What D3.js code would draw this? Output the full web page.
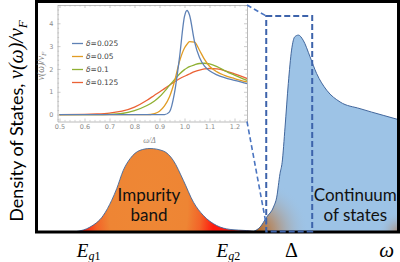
<!DOCTYPE html>
<html><head><meta charset="utf-8">
<script src="https://cdn.jsdelivr.net/npm/d3@7"></script>
<style>html,body{margin:0;padding:0;background:#fff;}svg{display:block;}</style>
</head><body>
<svg id="chart" width="400" height="262"></svg>
<script>
// ---------- DATA ----------
// Main schematic (arbitrary units 0..100)
const bandX = [11.2, 14.9, 18.6, 20.9, 22.3, 24.1, 26.0, 28.7, 31.5, 35.2, 37.9, 40.7, 43.5, 46.2, 49.9, 53.6, 58.2, 60.0];
const bandY = [0, 1.9, 7.0, 13.5, 18.6, 26.5, 31.6, 35.2, 36.0, 34.9, 30.9, 22.2, 12.7, 7.0, 2.6, 0.9, 0.4, 0.1];
const contX = [60.0, 61.9, 63.7, 65.6, 66.5, 67.4, 68.0, 68.8, 69.7, 70.6, 71.5, 72.5, 73.8, 75.7, 77.5, 80.3, 84.0, 89.5, 95.9, 100];
const contY = [0, 1.9, 6.2, 10.6, 14.9, 25.1, 30.0, 45.3, 64.2, 78.7, 84.5, 85.2, 83.0, 75.8, 68.6, 61.3, 56.2, 53.3, 50.4, 48.6];
const mainTickPos = [14.4, 53.0, 70.4, 96.7];
const mainTickNames = ["Eg1", "Eg2", "Δ", "ω"];

// Inset: DOS vs ω/Δ for several δ
const insetOmega = [0.5, 0.6, 0.65, 0.7, 0.75, 0.8, 0.85, 0.88, 0.9, 0.92, 0.94, 0.96, 0.98, 1.0, 1.01, 1.02, 1.04, 1.06, 1.08, 1.1, 1.13, 1.16, 1.2, 1.25];
const dos_d0025 = [0, 0, 0, 0, 0, 0, 0, 0, 0, 0.0, 0.12, 0.95, 2.5, 4.3, 4.56, 4.36, 3.2, 2.5, 2.12, 1.92, 1.74, 1.62, 1.5, 1.36];
const dos_d005  = [0, 0, 0, 0, 0, 0, 0, 0.05, 0.15, 0.38, 0.78, 1.45, 2.33, 2.92, 3.08, 3.2, 3.17, 2.82, 2.42, 2.12, 1.87, 1.72, 1.58, 1.43];
const dos_d01   = [0, 0, 0, 0.01, 0.05, 0.18, 0.4, 0.6, 0.78, 1.02, 1.28, 1.53, 1.78, 1.97, 2.04, 2.1, 2.18, 2.24, 2.25, 2.22, 2.1, 1.93, 1.73, 1.5];
const dos_d0125 = [0, 0.01, 0.03, 0.07, 0.15, 0.33, 0.63, 0.85, 0.99, 1.14, 1.29, 1.44, 1.57, 1.68, 1.73, 1.78, 1.88, 1.95, 2.0, 2.02, 2.0, 1.93, 1.78, 1.58];
const deltaLabels = ["0.025", "0.05", "0.1", "0.125"];
const insetXTicks = [0.5, 0.6, 0.7, 0.8, 0.9, 1.0, 1.1, 1.2];
const insetYTicks = [0, 1, 2, 3, 4];

// ---------- STYLE ----------
const seriesColors = ["#5E81B5", "#E19C24", "#8FB032", "#EB6235"];
const svg = d3.select("#chart");
const defs = svg.append("defs");

// main scales
const mx = d3.scaleLinear().domain([0, 100]).range([36, 398]);
const my = d3.scaleLinear().domain([0, 100]).range([231.5, 1]);

// gradients
const bcx = mx(31), bcy = my(12);
const gBand = defs.append("radialGradient").attr("id", "gBand")
  .attr("gradientUnits", "userSpaceOnUse").attr("cx", bcx).attr("cy", bcy).attr("r", 66)
  .attr("gradientTransform", `translate(${bcx},${bcy}) scale(1,2) translate(${-bcx},${-bcy})`);
gBand.append("stop").attr("offset", 0).attr("stop-color", "#EE8735");
gBand.append("stop").attr("offset", 0.6).attr("stop-color", "#EE8534");
gBand.append("stop").attr("offset", 0.8).attr("stop-color", "#F36328");
gBand.append("stop").attr("offset", 1).attr("stop-color", "#FF1A0E");

const gCont = defs.append("radialGradient").attr("id", "gCont")
  .attr("gradientUnits", "userSpaceOnUse").attr("cx", mx(61)).attr("cy", my(0)).attr("r", 52);
gCont.append("stop").attr("offset", 0).attr("stop-color", "#B8621A").attr("stop-opacity", 1);
gCont.append("stop").attr("offset", 0.35).attr("stop-color", "#B98050").attr("stop-opacity", 0.7);
gCont.append("stop").attr("offset", 1).attr("stop-color", "#9DC3E6").attr("stop-opacity", 0);

const gCont2 = defs.append("radialGradient").attr("id", "gCont2")
  .attr("gradientUnits", "userSpaceOnUse").attr("cx", mx(100)).attr("cy", my(0)).attr("r", 20);
gCont2.append("stop").attr("offset", 0).attr("stop-color", "#B07A50").attr("stop-opacity", 0.7);
gCont2.append("stop").attr("offset", 1).attr("stop-color", "#9DC3E6").attr("stop-opacity", 0);

// ---------- MAIN AREAS ----------
const area = d3.area().x(d => mx(d[0])).y0(my(0)).y1(d => my(d[1])).curve(d3.curveMonotoneX);
const line = d3.line().x(d => mx(d[0])).y(d => my(d[1])).curve(d3.curveMonotoneX);
const bandPts = bandX.map((x, i) => [x, bandY[i]]);
const contPts = contX.map((x, i) => [x, contY[i]]);

svg.append("path").attr("d", area(contPts)).attr("fill", "#9DC3E6");
svg.append("path").attr("d", area(contPts)).attr("fill", "url(#gCont)");
svg.append("path").attr("d", area(contPts)).attr("fill", "url(#gCont2)");
svg.append("path").attr("d", line(contPts)).attr("fill", "none").attr("stroke", "#41669C").attr("stroke-width", 1);

svg.append("path").attr("d", area(bandPts)).attr("fill", "url(#gBand)");
svg.append("path").attr("d", line(bandPts)).attr("fill", "none").attr("stroke", "#41669C").attr("stroke-width", 0.9);

// area labels
const labFont = "Lato, 'Open Sans', sans-serif";
function twoLine(x, y1, y2, a, b) {
  const t = svg.append("text").attr("text-anchor", "middle").attr("font-family", labFont)
    .attr("font-size", 17).attr("fill", "#111");
  t.append("tspan").attr("x", x).attr("y", y1).text(a);
  t.append("tspan").attr("x", x).attr("y", y2).text(b);
}
twoLine(mx(31.2), 201, 220.5, "Impurity", "band");
twoLine(mx(88.2), 201, 220.5, "Continuum", "of states");

// ---------- FRAME ----------
svg.append("rect").attr("x", 36.5).attr("y", 1.5).attr("width", 362).attr("height", 230.5)
  .attr("fill", "none").attr("stroke", "#000").attr("stroke-width", 3);

// main x tick labels
const mAxis = svg.append("g").attr("transform", `translate(0,${my(0)})`)
  .call(d3.axisBottom(mx).tickValues(mainTickPos).tickSize(0).tickFormat(""));
mAxis.select(".domain").remove();
mAxis.selectAll(".tick").each(function(d, i) {
  const name = mainTickNames[i];
  const t = d3.select(this).append("text").attr("y", 25).attr("fill", "#000")
    .attr("text-anchor", "middle").attr("font-family", "'Liberation Serif', 'DejaVu Serif', serif")
    .attr("font-size", 19);
  if (name.startsWith("E")) {
    t.append("tspan").attr("font-style", "italic").text("E");
    t.append("tspan").attr("font-style", "italic").attr("font-size", 12).attr("dy", 3).text(name.slice(1,2));
    t.append("tspan").attr("font-size", 12).text(name.slice(2));
  } else if (name === "ω") {
    t.attr("font-style", "italic").attr("font-size", 21).text(name);
  } else {
    t.attr("font-size", 20).text(name);
  }
});

// y title
const yt = svg.append("text").attr("transform", "translate(23,121) rotate(-90)")
  .attr("text-anchor", "middle").attr("fill", "#000").attr("font-size", 18);
yt.append("tspan").attr("font-family", labFont).text("Density of States, ");
yt.append("tspan").attr("font-family", "'Liberation Serif', serif").attr("font-style", "italic").attr("font-size", 20).text("ν(ω)/ν");
yt.append("tspan").attr("font-family", "'Liberation Serif', serif").attr("font-style", "italic").attr("font-size", 13).attr("dy", 4).text("F");

// ---------- INSET ----------
const ix = d3.scaleLinear().domain([0.492, 1.25]).range([57.5, 247]);
const iy = d3.scaleLinear().domain([-0.3, 4.8]).range([121.5, 5]);
const inset = svg.append("g");
inset.append("rect").attr("x", 38.5).attr("y", 3).attr("width", 209).attr("height", 143).attr("fill", "#fff");

const tickCol = "#a8a8a8", labCol = "#8a8a8a";
function styleAxis(g) {
  g.select(".domain").attr("stroke", tickCol).attr("stroke-width", 0.8);
  g.selectAll(".tick line").attr("stroke", tickCol).attr("stroke-width", 0.6);
  g.selectAll("text").attr("fill", labCol).attr("font-size", 6.5).attr("font-family", "'DejaVu Sans', sans-serif");
}
const xMinor = d3.range(0.5, 1.2501, 0.02).filter(v => Math.abs(Math.round(v*10) - v*10) > 1e-6);
const yMinor = d3.range(-0.2, 4.801, 0.2).filter(v => Math.abs(Math.round(v) - v) > 1e-6);

// minor ticks
[[iy(-0.3), 1.6], [iy(4.8), -1.6]].forEach(([y, s]) => {
  inset.append("g").attr("transform", `translate(0,${y})`)
    .call(d3.axisBottom(ix).tickValues(xMinor).tickSize(-s).tickFormat(""))
    .call(g => { g.select(".domain").remove(); g.selectAll("line").attr("stroke", tickCol).attr("stroke-width", 0.5); });
});
[[ix(0.492), 1.6], [ix(1.25), -1.6]].forEach(([x, s]) => {
  inset.append("g").attr("transform", `translate(${x},0)`)
    .call(d3.axisLeft(iy).tickValues(yMinor).tickSize(-s).tickFormat(""))
    .call(g => { g.select(".domain").remove(); g.selectAll("line").attr("stroke", tickCol).attr("stroke-width", 0.5); });
});
// major
inset.append("g").attr("transform", `translate(0,${iy(-0.3)})`)
  .call(d3.axisBottom(ix).tickValues(insetXTicks).tickSize(-3).tickSizeOuter(0).tickPadding(3).tickFormat(d3.format(".1f")))
  .call(styleAxis);
inset.append("g").attr("transform", `translate(0,${iy(4.8)})`)
  .call(d3.axisTop(ix).tickValues(insetXTicks).tickSize(-3).tickSizeOuter(0).tickFormat(""))
  .call(styleAxis);
inset.append("g").attr("transform", `translate(${ix(0.492)},0)`)
  .call(d3.axisLeft(iy).tickValues(insetYTicks).tickSize(-3).tickSizeOuter(0).tickPadding(4).tickFormat(d3.format("d")))
  .call(styleAxis);
inset.append("g").attr("transform", `translate(${ix(1.25)},0)`)
  .call(d3.axisRight(iy).tickValues(insetYTicks).tickSize(-3).tickSizeOuter(0).tickFormat(""))
  .call(styleAxis);

// curves
const series = [dos_d0025, dos_d005, dos_d01, dos_d0125];
const iline = d3.line().x(d => ix(d[0])).y(d => iy(d[1])).curve(d3.curveMonotoneX);
series.slice().reverse().forEach((s, ri) => {
  const i = series.length - 1 - ri;
  inset.append("path").attr("d", iline(insetOmega.map((w, k) => [w, s[k]])))
    .attr("fill", "none").attr("stroke", seriesColors[i]).attr("stroke-width", 1.3);
});

// legend
const legY = [43.5, 56.5, 69.5, 82.5];
deltaLabels.forEach((lab, i) => {
  inset.append("line").attr("x1", 72).attr("x2", 83).attr("y1", legY[i]).attr("y2", legY[i])
    .attr("stroke", seriesColors[i]).attr("stroke-width", 1.3);
  const t = inset.append("text").attr("x", 86).attr("y", legY[i] + 2.6).attr("font-size", 7.5)
    .attr("font-family", "'DejaVu Sans', sans-serif").attr("fill", "#444");
  t.append("tspan").attr("font-style", "italic").text("δ");
  t.append("tspan").text("=" + lab);
});

// inset axis labels
const iyl = inset.append("text").attr("transform", "translate(44,66) rotate(-90)")
  .attr("text-anchor", "middle").attr("fill", "#7a7a7a").attr("font-size", 9.5)
  .attr("font-family", "'Liberation Serif', serif").attr("font-style", "italic");
iyl.append("tspan").text("ν(ω)/ν");
iyl.append("tspan").attr("font-size", 7).attr("dy", 2).text("F");
inset.append("text").attr("x", ix(0.86)).attr("y", 143).attr("text-anchor", "middle")
  .attr("fill", labCol).attr("font-size", 8).attr("font-family", "'Liberation Serif', serif")
  .attr("font-style", "italic").text("ω/Δ");

// ---------- ZOOM WINDOW (dashed) ----------
const win = {x0: 63.6, x1: 76.3, yTop: 93.5};
const dashCol = "#3D63AB";
svg.append("rect").attr("x", mx(win.x0)).attr("y", my(win.yTop))
  .attr("width", mx(win.x1) - mx(win.x0)).attr("height", my(0) - my(win.yTop))
  .attr("fill", "none").attr("stroke", dashCol).attr("stroke-width", 2).attr("stroke-dasharray", "6,3");
svg.append("line").attr("x1", ix(1.25)).attr("y1", iy(4.8)).attr("x2", mx(win.x0)).attr("y2", my(win.yTop))
  .attr("stroke", "#4A74C0").attr("stroke-width", 1.6).attr("stroke-dasharray", "5,3");
svg.append("line").attr("x1", ix(1.25)).attr("y1", iy(-0.3)).attr("x2", mx(win.x0)).attr("y2", my(3))
  .attr("stroke", "#4A74C0").attr("stroke-width", 1.6).attr("stroke-dasharray", "5,3");
</script>
</body></html>
